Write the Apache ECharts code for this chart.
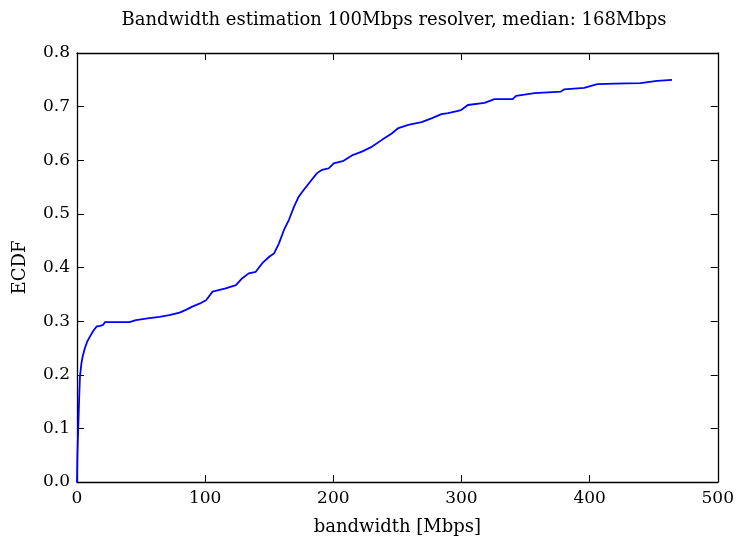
<!DOCTYPE html>
<html><head><meta charset="utf-8">
<script src="https://cdn.jsdelivr.net/npm/echarts@6/dist/echarts.min.js"></script>
<style>html,body{margin:0;padding:0;background:#fff}#c{width:737px;height:543px}</style>
</head><body><div id="c"></div>
<script>
const titleText = "Bandwidth estimation 100Mbps resolver, median: 168Mbps";
const xName = "bandwidth [Mbps]";
const yName = "ECDF";
const bandwidth = [0, 0.3, 1.0, 1.6, 2.3, 3.5, 4.5, 6.2, 8.0, 10.1, 12.5, 15.3, 18, 20.4, 21.7, 30, 41, 46, 55, 64.4, 72, 80, 85, 90, 96, 100.7, 105.8, 116, 124, 129, 134, 139.5, 144.6, 150, 153.7, 157.6, 161.5, 165.4, 169.3, 173, 177, 181, 187.3, 191, 196.4, 200.3, 208, 214.5, 222.3, 230, 238, 245.6, 250.8, 258.5, 268.9, 276.6, 284.4, 289.6, 297.4, 300, 305, 318, 325.8, 340, 342.6, 357, 377.6, 380, 395.7, 406, 420, 439.7, 452.6, 464.3];
const ecdf = [0, 0.05, 0.103, 0.15, 0.196, 0.222, 0.235, 0.250, 0.262, 0.271, 0.281, 0.290, 0.291, 0.293, 0.298, 0.298, 0.298, 0.302, 0.305, 0.308, 0.311, 0.316, 0.321, 0.327, 0.333, 0.339, 0.355, 0.361, 0.367, 0.380, 0.389, 0.392, 0.408, 0.420, 0.426, 0.445, 0.470, 0.489, 0.513, 0.532, 0.545, 0.557, 0.576, 0.582, 0.585, 0.594, 0.599, 0.609, 0.616, 0.625, 0.638, 0.650, 0.660, 0.666, 0.671, 0.678, 0.686, 0.688, 0.692, 0.694, 0.703, 0.707, 0.714, 0.714, 0.720, 0.725, 0.728, 0.732, 0.735, 0.742, 0.743, 0.744, 0.748, 0.750];
const xTicks = [0, 100, 200, 300, 400, 500];
const yTicks = [0.0, 0.1, 0.2, 0.3, 0.4, 0.5, 0.6, 0.7, 0.8];

const font = "'DejaVu Serif', 'Liberation Serif', serif";
const chart = echarts.init(document.getElementById('c'), null, {renderer: 'canvas'});
const axisLine = {show: true, onZero: false, lineStyle: {color: '#000', width: 1.3}};
const tick = {show: true, inside: true, length: 7, lineStyle: {color: '#000', width: 1}};
chart.setOption({
  animation: false,
  backgroundColor: '#fff',
  title: {text: titleText, left: 389, textAlign: 'center', top: 6,
    textStyle: {fontFamily: font, fontSize: 18, fontWeight: 'normal', color: '#000'}},
  grid: {left: 77, top: 53, right: 16, bottom: 61},
  xAxis: [
    {type: 'value', min: xTicks[0], max: xTicks[xTicks.length-1], interval: 100, position: 'bottom',
     name: xName, nameLocation: 'middle', nameGap: 36,
     nameTextStyle: {fontFamily: font, fontSize: 18, color: '#000'},
     axisLine: axisLine, axisTick: tick, splitLine: {show: false},
     axisLabel: {fontFamily: font, fontSize: 17, color: '#000', margin: 8}},
    {type: 'value', min: xTicks[0], max: xTicks[xTicks.length-1], interval: 100, position: 'top',
     axisLine: axisLine, axisTick: tick, splitLine: {show: false}, axisLabel: {show: false}}
  ],
  yAxis: [
    {type: 'value', min: yTicks[0], max: yTicks[yTicks.length-1], interval: 0.1, position: 'left',
     name: yName, nameLocation: 'middle', nameGap: 48,
     nameTextStyle: {fontFamily: font, fontSize: 18, color: '#000'},
     axisLine: axisLine, axisTick: tick, splitLine: {show: false},
     axisLabel: {fontFamily: font, fontSize: 17, color: '#000', margin: 7,
       formatter: v => v.toFixed(1)}},
    {type: 'value', min: yTicks[0], max: yTicks[yTicks.length-1], interval: 0.1, position: 'right',
     axisLine: axisLine, axisTick: tick, splitLine: {show: false}, axisLabel: {show: false}}
  ],
  series: [{
    type: 'line', xAxisIndex: 0, yAxisIndex: 0,
    data: bandwidth.map((b, i) => [b, ecdf[i]]),
    showSymbol: false, smooth: false,
    lineStyle: {color: '#0000ff', width: 1.8}
  }]
});
</script></body></html>
